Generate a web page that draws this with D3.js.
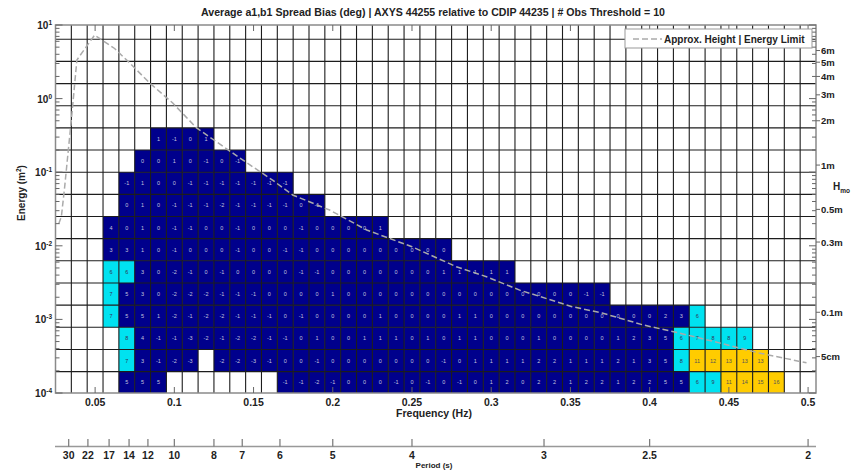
<!DOCTYPE html>
<html>
<head>
<meta charset="utf-8">
<script src="https://cdn.jsdelivr.net/npm/d3@7"></script>
<style>
  body { margin: 0; background: #fff; }
  svg { display: block; font-family: "Liberation Sans", Arial, sans-serif; font-weight: bold; }
</style>
</head>
<body>
<svg id="chart" width="861" height="472"></svg>
<script>
// rows are energy bins 0.1*2^k .. 0.1*2^(k+1) (m^2), columns 0.01 Hz wide
const rowExp = [1, 0, -1, -2, -3, -4, -5, -6, -7, -8, -9, -10];
const rowFirstFreq = [0.09, 0.08, 0.07, 0.07, 0.06, 0.06, 0.06, 0.06, 0.06, 0.07, 0.07, 0.07];
const biasRows = [
  [1, -1, 0, 1],
  [0, 0, 1, 0, -1, 0, -1],
  [-1, 1, 0, 0, -1, -1, -1, -1, -1, -1, -1],
  [0, 1, 0, -1, -1, -1, -2, -1, -1, -1, -1, 0, -1],
  [4, 0, 1, 0, -1, -1, 0, 0, -1, 0, 0, 0, -1, 0, 0, 0, 0, 1],
  [3, 3, 1, 0, -1, 0, 0, 0, -1, 0, 0, -1, -1, 0, 0, 0, 0, 0, 0, 0, 0, 0],
  [6, 6, 3, 0, -2, -1, 0, -1, 0, 0, 0, 0, -1, -1, 0, 0, 0, 0, 0, 0, 0, 1, 1, 1, 1, 1],
  [7, 5, 3, 0, -2, -2, -2, -1, -1, -1, 0, 0, 0, 0, 1, 0, 0, 0, 0, 0, 0, 0, 0, 0, 0, 0, 0, 0, 0, 0, -1, -1],
  [7, 5, 5, 1, -2, -1, -2, -2, -1, -1, -1, 0, -1, 0, 0, 0, 0, 1, 0, 0, 0, 0, 1, 1, 0, 0, 0, 0, 0, 0, 0, 0, 0, 0, 0, 2, 3, 6],
  [8, 4, -1, -1, -3, -2, -1, -2, -2, -1, -1, 0, 1, 0, 0, 1, 1, 1, 0, 1, 0, 1, 1, 0, 0, 0, 1, 0, 0, 0, 0, 1, 2, 3, 5, 6, 7, 8, 8, 9],
  [7, 3, -1, -2, -3, null, -2, -2, -3, -1, 0, 0, -1, 0, 0, 0, 0, 0, 0, 0, -1, 0, 1, 1, 1, 1, 2, 2, 1, 1, 1, 2, 1, 3, 5, 8, 11, 12, 13, 13, 13],
  [5, 5, 5, null, null, null, null, null, null, null, -1, -1, -2, -1, 0, 0, 0, -1, 0, -1, 0, -1, 0, 1, 2, 0, 2, 2, 1, 2, 2, 1, 2, 2, 5, 5, 6, 9, 11, 14, 15, 16]
];

const freqTicks = [0.05, 0.1, 0.15, 0.2, 0.25, 0.3, 0.35, 0.4, 0.45, 0.5];
const freqLabels = ["0.05", "0.1", "0.15", "0.2", "0.25", "0.3", "0.35", "0.4", "0.45", "0.5"];
const energyExp = [-4, -3, -2, -1, 0, 1];
const hmoMeters = [6, 5, 4, 3, 2, 1, 0.5, 0.3, 0.1, 0.05];
const hmoLabels = ["6m", "5m", "4m", "3m", "2m", "1m", "0.5m", "0.3m", "0.1m", "5cm"];
const periodTicks = [30, 22, 17, 14, 12, 10, 8, 7, 6, 5, 4, 3, 2.5, 2];
const periodLabels = ["30", "22", "17", "14", "12", "10", "8", "7", "6", "5", "4", "3", "2.5", "2"];

// dashed "approx. height | energy limit" curve
const limitFreq = [0.027, 0.0287, 0.0308, 0.0329, 0.035, 0.0385, 0.0497, 0.0623, 0.0718, 0.0844, 0.099, 0.114,
  0.1413, 0.162, 0.1747, 0.198, 0.2214, 0.25, 0.278, 0.297, 0.318, 0.351, 0.37, 0.396, 0.419, 0.444, 0.469, 0.499];
const limitEnergy = [0.0198, 0.0248, 0.0635, 0.182, 0.512, 3.35, 7.3, 4.8, 3.05, 1.63, 0.87, 0.40,
  0.156, 0.078, 0.049, 0.0306, 0.0164, 0.0097, 0.0052, 0.0038, 0.0025, 0.00149, 0.00122, 0.00084, 0.00065, 0.00048, 0.00035, 0.000257];

let x = d3.scaleLinear().domain([0.025, 0.505]).range([55.5, 816]);
let y = d3.scaleLog().domain([1e-4, 10]).range([393, 25]).clamp(true);

let svg = d3.select("#chart");

let color = v => Math.abs(v) >= 11 ? "#ffcc00" : (Math.abs(v) >= 6 ? "#00e2f0" : "#00008c");
let textColor = v => Math.abs(v) >= 11 ? "#555" : (Math.abs(v) >= 6 ? "#335" : "#c4c4dc");

let cells = [];
biasRows.forEach((row, r) => {
  row.forEach((v, j) => {
    if (v === null) return;
    let f = rowFirstFreq[r] + j * 0.01;
    let lo = 0.1 * Math.pow(2, rowExp[r]);
    cells.push({f: f, lo: lo, hi: lo * 2, v: v});
  });
});

let plot = svg.append("g");

plot.selectAll("rect.cell")
  .data(cells)
  .join("rect")
  .attr("class", "cell")
  .attr("x", d => x(d.f - 0.005))
  .attr("width", d => x(d.f + 0.005) - x(d.f - 0.005))
  .attr("y", d => y(d.hi))
  .attr("height", d => y(d.lo) - y(d.hi))
  .attr("fill", d => color(d.v));

// grid on the bin edges
let vEdges = d3.range(0.035, 0.5, 0.01);
let hEdges = d3.range(-9, 7).map(k => 0.1 * Math.pow(2, k));

plot.selectAll("line.vgrid")
  .data(vEdges)
  .join("line")
  .attr("x1", d => x(d)).attr("x2", d => x(d))
  .attr("y1", 25).attr("y2", 393)
  .attr("stroke", "#1c1c1c").attr("stroke-width", 1.1);

plot.selectAll("line.hgrid")
  .data(hEdges)
  .join("line")
  .attr("x1", 55.5).attr("x2", 816)
  .attr("y1", d => y(d)).attr("y2", d => y(d))
  .attr("stroke", "#1c1c1c").attr("stroke-width", 1.1);

plot.selectAll("text.val")
  .data(cells)
  .join("text")
  .attr("class", "val")
  .attr("x", d => x(d.f))
  .attr("y", d => (y(d.lo) + y(d.hi)) / 2 + 2)
  .attr("text-anchor", "middle")
  .attr("font-size", "5.5px")
  .attr("font-weight", "normal")
  .attr("fill", d => textColor(d.v))
  .text(d => d.v);

// limit curve
let line = d3.line()
  .x((d, i) => x(limitFreq[i]))
  .y((d, i) => y(d))
  .curve(d3.curveLinear);

plot.append("path")
  .datum(limitEnergy)
  .attr("d", line)
  .attr("fill", "none")
  .attr("stroke", "#aaa")
  .attr("stroke-width", 1.5)
  .attr("stroke-dasharray", "6,3");

// frame
svg.append("rect")
  .attr("x", 55.5).attr("y", 25)
  .attr("width", 816 - 55.5).attr("height", 368)
  .attr("fill", "none")
  .attr("stroke", "#8a8a8a")
  .attr("stroke-width", 1.5);

// log ticks on both sides, inside
let logTicks = [];
energyExp.forEach(e => {
  for (let m = 1; m < 10; m++) {
    let v = m * Math.pow(10, e);
    if (v <= 10) logTicks.push({v: v, major: m === 1});
  }
});
let ticks = svg.append("g").attr("stroke", "#666").attr("stroke-width", 1);
ticks.selectAll("line.lt")
  .data(logTicks)
  .join("line")
  .attr("class", "lt")
  .attr("x1", 55.5).attr("x2", d => 55.5 + (d.major ? 7 : 4))
  .attr("y1", d => y(d.v)).attr("y2", d => y(d.v));
ticks.selectAll("line.rt")
  .data(logTicks)
  .join("line")
  .attr("class", "rt")
  .attr("x1", 816).attr("x2", d => 816 - (d.major ? 7 : 4))
  .attr("y1", d => y(d.v)).attr("y2", d => y(d.v));
ticks.selectAll("line.bt")
  .data(freqTicks)
  .join("line")
  .attr("class", "bt")
  .attr("x1", d => x(d)).attr("x2", d => x(d))
  .attr("y1", 393).attr("y2", 387);
ticks.selectAll("line.tt")
  .data(freqTicks)
  .join("line")
  .attr("class", "tt")
  .attr("x1", d => x(d)).attr("x2", d => x(d))
  .attr("y1", 25).attr("y2", 31);

// left labels 10^n
let yl = svg.append("g").attr("fill", "#222");
energyExp.forEach(e => {
  let t = yl.append("text")
    .attr("x", 52)
    .attr("y", y(Math.pow(10, e)) + 4)
    .attr("text-anchor", "end")
    .attr("font-size", "10px");
  t.append("tspan").text("10");
  t.append("tspan").attr("dy", -4).attr("font-size", "6.5px").text(e);
});

svg.append("text")
  .attr("transform", "translate(25,193) rotate(-90)")
  .attr("text-anchor", "middle")
  .attr("font-size", "10px")
  .attr("fill", "#222")
  .call(t => {
    t.append("tspan").text("Energy (m");
    t.append("tspan").attr("dy", -4).attr("font-size", "6.5px").text("2");
    t.append("tspan").attr("dy", 4).text(")");
  });

// right Hmo labels, E = H^2 / 8
let hr = svg.append("g");
hmoMeters.forEach((h, i) => {
  let yy = y(h * h / 8);
  hr.append("line")
    .attr("x1", 816).attr("x2", 820)
    .attr("y1", yy).attr("y2", yy)
    .attr("stroke", "#666");
  hr.append("text")
    .attr("x", 821)
    .attr("y", yy + 3.5)
    .attr("font-size", "9.5px")
    .attr("fill", "#222")
    .text(hmoLabels[i]);
});
svg.append("text")
  .attr("x", 833).attr("y", 190)
  .attr("font-size", "10px")
  .attr("fill", "#222")
  .call(t => {
    t.append("tspan").text("H");
    t.append("tspan").attr("dy", 3).attr("font-size", "6.5px").text("mo");
  });

// bottom frequency axis
svg.append("g").selectAll("text")
  .data(freqTicks)
  .join("text")
  .attr("x", d => x(d))
  .attr("y", 405.5)
  .attr("text-anchor", "middle")
  .attr("font-size", "10.5px")
  .attr("fill", "#222")
  .text((d, i) => freqLabels[i]);

svg.append("text")
  .attr("x", 434).attr("y", 417)
  .attr("text-anchor", "middle")
  .attr("font-size", "10.5px")
  .attr("fill", "#222")
  .text("Frequency (Hz)");

// period axis
let pAxis = svg.append("g");
pAxis.append("line")
  .attr("x1", 55).attr("x2", 816)
  .attr("y1", 446.5).attr("y2", 446.5)
  .attr("stroke", "#999").attr("stroke-width", 1.5);
pAxis.selectAll("line.pt")
  .data(periodTicks)
  .join("line")
  .attr("class", "pt")
  .attr("x1", d => x(1 / d)).attr("x2", d => x(1 / d))
  .attr("y1", 446.5).attr("y2", 439)
  .attr("stroke", "#777").attr("stroke-width", 1.2);
pAxis.selectAll("text")
  .data(periodTicks)
  .join("text")
  .attr("x", d => x(1 / d))
  .attr("y", 459)
  .attr("text-anchor", "middle")
  .attr("font-size", "10.5px")
  .attr("fill", "#222")
  .text((d, i) => periodLabels[i]);

svg.append("text")
  .attr("x", 434).attr("y", 468)
  .attr("text-anchor", "middle")
  .attr("font-size", "8px")
  .attr("fill", "#222")
  .text("Period (s)");

// legend
let lg = svg.append("g");
lg.append("rect")
  .attr("x", 625).attr("y", 29)
  .attr("width", 187).attr("height", 19)
  .attr("fill", "#fff").attr("stroke", "#999");
lg.append("line")
  .attr("x1", 633).attr("x2", 662)
  .attr("y1", 39).attr("y2", 39)
  .attr("stroke", "#aaa").attr("stroke-width", 1.5)
  .attr("stroke-dasharray", "6,3");
lg.append("text")
  .attr("x", 664).attr("y", 42.5)
  .attr("font-size", "10px")
  .attr("fill", "#222")
  .text("Approx. Height | Energy Limit");

svg.append("text")
  .attr("x", 433).attr("y", 16)
  .attr("text-anchor", "middle")
  .attr("font-size", "10.6px")
  .attr("fill", "#222")
  .text("Average a1,b1 Spread Bias (deg) |  AXYS 44255 relative to CDIP 44235 | # Obs Threshold = 10");
</script>
</body>
</html>
